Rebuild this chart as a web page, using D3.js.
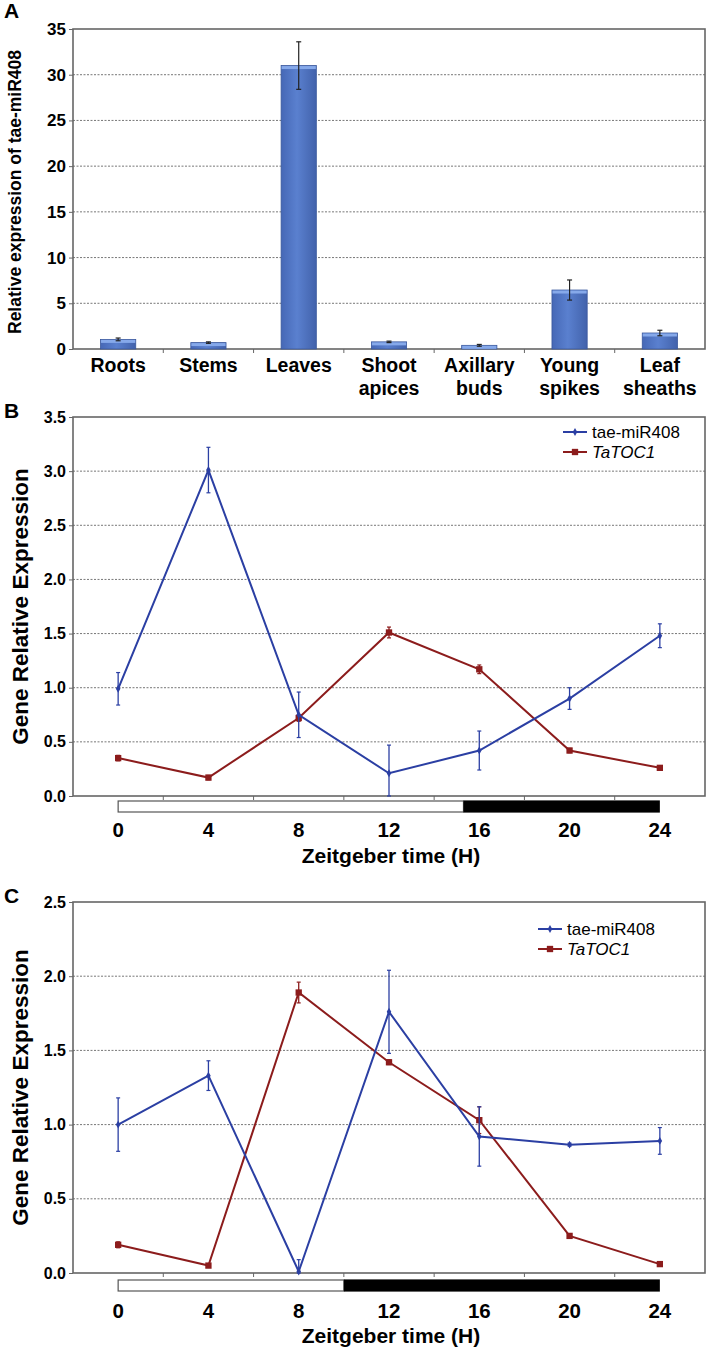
<!DOCTYPE html>
<html>
<head>
<meta charset="utf-8">
<script src="https://cdn.jsdelivr.net/npm/d3@7"></script>
<style>
  body { margin: 0; background: #fff; }
  svg text { font-family: "Liberation Sans", Arial, Helvetica, sans-serif; }
</style>
</head>
<body>
<div id="chart"></div>
<script>
// Panel A: tissue expression of tae-miR408
const tissues = ["Roots", "Stems", "Leaves", "Shoot apices", "Axillary buds", "Young spikes", "Leaf sheaths"];
const tissueExpr = [1.05, 0.7, 31.0, 0.78, 0.4, 6.45, 1.75];
const tissueErr = [0.15, 0.08, 2.6, 0.08, 0.1, 1.1, 0.3];
const ticksA = [0, 5, 10, 15, 20, 25, 30, 35];

// Panels B and C: time course (Zeitgeber time, hours)
const hours = [0, 4, 8, 12, 16, 20, 24];
const seriesNames = ["tae-miR408", "TaTOC1"];

const mirB = [0.99, 3.01, 0.75, 0.21, 0.42, 0.9, 1.48];
const mirBErr = [0.15, 0.21, 0.21, 0.26, 0.18, 0.1, 0.11];
const tocB = [0.35, 0.17, 0.72, 1.51, 1.17, 0.42, 0.26];
const tocBErr = [0.025, 0.02, 0.03, 0.05, 0.04, 0.02, 0.02];
const ticksB = [0, 0.5, 1.0, 1.5, 2.0, 2.5, 3.0, 3.5];
const lightEndB = 15.3;

const mirC = [1.0, 1.33, 0.01, 1.76, 0.92, 0.865, 0.89];
const mirCErr = [0.18, 0.1, 0.08, 0.28, 0.2, 0.01, 0.09];
const tocC = [0.19, 0.05, 1.89, 1.42, 1.03, 0.25, 0.06];
const tocCErr = [0.02, 0.01, 0.07, 0.015, 0.09, 0.015, 0.01];
const ticksC = [0, 0.5, 1.0, 1.5, 2.0, 2.5];
const lightEndC = 10;

const W = 711, H = 1352;
const left = 73, right = 705;
const blue = "#2b3fa3", red = "#8c1c1c";

const svg = d3.select("#chart").append("svg")
  .attr("width", W).attr("height", H);

const defs = svg.append("defs");
const grad = defs.append("linearGradient").attr("id", "barGrad")
  .attr("x1", 0).attr("x2", 1).attr("y1", 0).attr("y2", 0);
grad.append("stop").attr("offset", "0%").attr("stop-color", "#4668b6");
grad.append("stop").attr("offset", "45%").attr("stop-color", "#5a80cf");
grad.append("stop").attr("offset", "100%").attr("stop-color", "#4262ab");

function panelLabel(txt, y) {
  svg.append("text").attr("x", 4).attr("y", y)
    .style("font-size", "21px").style("font-weight", "bold").text(txt);
}

function frame(g, y, ticks, top, bottom, fmt) {
  // dotted gridlines
  g.selectAll(".grid").data(ticks.filter(t => t > 0 && t < ticks[ticks.length - 1]))
    .enter().append("line")
    .attr("x1", left).attr("x2", right)
    .attr("y1", d => y(d)).attr("y2", d => y(d))
    .attr("stroke", "#777").attr("stroke-width", 1)
    .attr("stroke-dasharray", "2,1.5");
  // box
  g.append("rect").attr("x", left).attr("y", top)
    .attr("width", right - left).attr("height", bottom - top)
    .attr("fill", "none").attr("stroke", "#666").attr("stroke-width", 1.6);
  // y axis
  const ax = g.append("g").attr("transform", `translate(${left},0)`)
    .call(d3.axisLeft(y).tickValues(ticks).tickSize(4).tickSizeOuter(0).tickFormat(fmt));
  ax.select(".domain").remove();
  ax.selectAll("line").attr("stroke", "#666");
  return ax;
}

// ---------- Panel A ----------
panelLabel("A", 18);
const gA = svg.append("g");
const topA = 29, botA = 349;
const yA = d3.scaleLinear().domain([0, 35]).range([botA, topA]);
const xA = d3.scaleBand().domain(tissues).range([left, right]).paddingInner(0.61).paddingOuter(0.305);
const bandA = (right - left) / tissues.length;

const axA = frame(gA, yA, ticksA, topA, botA, d3.format("d"));
axA.selectAll("text").style("font-size", "17px").style("font-weight", "bold").attr("fill", "#000");

// category boundary ticks
gA.selectAll(".xt").data(d3.range(1, tissues.length))
  .enter().append("line")
  .attr("x1", d => left + d * bandA).attr("x2", d => left + d * bandA)
  .attr("y1", botA).attr("y2", botA + 4).attr("stroke", "#666");

const bars = gA.selectAll(".bar").data(tissues).enter().append("g");
bars.append("rect")
  .attr("x", d => xA(d)).attr("width", xA.bandwidth())
  .attr("y", (d, i) => yA(tissueExpr[i]))
  .attr("height", (d, i) => botA - yA(tissueExpr[i]))
  .attr("fill", "url(#barGrad)").attr("stroke", "#3a589c").attr("stroke-width", 0.8);
bars.append("rect")
  .attr("x", d => xA(d) + 0.5).attr("width", xA.bandwidth() - 1)
  .attr("y", (d, i) => yA(tissueExpr[i]) + 0.5)
  .attr("height", (d, i) => Math.min(3, botA - yA(tissueExpr[i])))
  .attr("fill", "#86a9ea");
// error bars
bars.each(function (d, i) {
  const cx = xA(d) + xA.bandwidth() / 2;
  const g = d3.select(this);
  const y1 = yA(tissueExpr[i] + tissueErr[i]), y2 = yA(tissueExpr[i] - tissueErr[i]);
  g.append("line").attr("x1", cx).attr("x2", cx).attr("y1", y1).attr("y2", y2)
    .attr("stroke", "#222").attr("stroke-width", 1.2);
  [y1, y2].forEach(yy => g.append("line").attr("x1", cx - 2.5).attr("x2", cx + 2.5)
    .attr("y1", yy).attr("y2", yy).attr("stroke", "#222").attr("stroke-width", 1.2));
});

// category labels
gA.selectAll(".cat").data(tissues).enter().append("text")
  .attr("text-anchor", "middle")
  .attr("x", d => xA(d) + xA.bandwidth() / 2)
  .attr("y", 372)
  .style("font-size", "19.5px").style("font-weight", "bold")
  .each(function (d) {
    const words = d.split(" ");
    const t = d3.select(this);
    words.forEach((w, k) => t.append("tspan")
      .attr("x", xA(d) + xA.bandwidth() / 2)
      .attr("dy", k === 0 ? 0 : 23).text(w));
  });

svg.append("text")
  .attr("transform", `translate(21,${(topA + botA) / 2 + 3}) rotate(-90)`)
  .attr("text-anchor", "middle")
  .style("font-size", "17.5px").style("font-weight", "bold")
  .text("Relative expression of tae-miR408");

// ---------- Panels B and C ----------
function timePanel(cfg) {
  panelLabel(cfg.label, cfg.labelY);
  const g = svg.append("g");
  const y = d3.scaleLinear().domain([0, cfg.ticks[cfg.ticks.length - 1]]).range([cfg.bottom, cfg.top]);
  const xb = d3.scaleBand().domain(hours).range([left, right]);
  const xc = h => xb(h) + xb.bandwidth() / 2;
  const xt = d3.scaleLinear().domain([0, 24]).range([xc(0), xc(24)]);

  const ax = frame(g, y, cfg.ticks, cfg.top, cfg.bottom, d3.format(".1f"));
  ax.selectAll("text").style("font-size", "16px").style("font-weight", "bold").attr("fill", "#000");

  g.selectAll(".xt").data(d3.range(1, hours.length))
    .enter().append("line")
    .attr("x1", d => left + d * xb.bandwidth()).attr("x2", d => left + d * xb.bandwidth())
    .attr("y1", cfg.bottom).attr("y2", cfg.bottom + 4).attr("stroke", "#666");

  // light / dark bar
  const by = cfg.bottom + cfg.barOff;
  g.append("rect").attr("x", xt(0)).attr("y", by)
    .attr("width", xt(cfg.lightEnd) - xt(0)).attr("height", 11)
    .attr("fill", "#fff").attr("stroke", "#555").attr("stroke-width", 1.2);
  g.append("rect").attr("x", xt(cfg.lightEnd)).attr("y", by - 0.6)
    .attr("width", xt(24) - xt(cfg.lightEnd)).attr("height", 12.2)
    .attr("fill", "#000");

  g.selectAll(".hl").data(hours).enter().append("text")
    .attr("x", d => xc(d)).attr("y", cfg.bottom + cfg.tickOff)
    .attr("text-anchor", "middle")
    .style("font-size", "20.5px").style("font-weight", "bold").text(d => d);

  g.append("text").attr("x", (xc(0) + xc(24)) / 2 + 2).attr("y", cfg.bottom + cfg.titleOff)
    .attr("text-anchor", "middle")
    .style("font-size", "21px").style("font-weight", "bold").text("Zeitgeber time (H)");

  svg.append("text")
    .attr("transform", `translate(28,${(cfg.top + cfg.bottom) / 2}) rotate(-90)`)
    .attr("text-anchor", "middle")
    .style("font-size", "22.5px").style("font-weight", "bold")
    .text("Gene Relative Expression");

  const line = d3.line().x((d, i) => xc(hours[i])).y(d => y(d));
  const series = [
    { vals: cfg.toc, err: cfg.tocErr, color: red, square: true },
    { vals: cfg.mir, err: cfg.mirErr, color: blue, square: false }
  ];
  series.forEach(s => {
    g.append("path").datum(s.vals).attr("d", line)
      .attr("fill", "none").attr("stroke", s.color).attr("stroke-width", 2);
    s.vals.forEach((v, i) => {
      const cx = xc(hours[i]);
      const y1 = y(v + s.err[i]), y2 = y(Math.max(0, v - s.err[i]));
      g.append("line").attr("x1", cx).attr("x2", cx).attr("y1", y1).attr("y2", y2)
        .attr("stroke", s.color).attr("stroke-width", 1.3);
      [y1, y2].forEach(yy => g.append("line").attr("x1", cx - 2).attr("x2", cx + 2)
        .attr("y1", yy).attr("y2", yy).attr("stroke", s.color).attr("stroke-width", 1.2));
    });
    g.selectAll(null).data(s.vals).enter().append("path")
      .attr("transform", (d, i) => `translate(${xc(hours[i])},${y(d)})`)
      .attr("d", d3.symbol().type(s.square ? d3.symbolSquare : d3.symbolDiamond).size(s.square ? 40 : 18)())
      .attr("fill", s.color);
  });

  // legend
  const lg = g.append("g").attr("transform", `translate(${cfg.legX},${cfg.legY})`);
  [{ c: blue, sq: false }, { c: red, sq: true }].forEach((it, k) => {
    const yy = k * 20;
    lg.append("line").attr("x1", 0).attr("x2", 24).attr("y1", yy).attr("y2", yy)
      .attr("stroke", it.c).attr("stroke-width", 2);
    lg.append("path").attr("transform", `translate(12,${yy})`)
      .attr("d", d3.symbol().type(it.sq ? d3.symbolSquare : d3.symbolDiamond).size(it.sq ? 40 : 18)())
      .attr("fill", it.c);
    lg.append("text").attr("x", 29).attr("y", yy + 6)
      .style("font-size", "17px")
      .style("font-style", k === 1 ? "italic" : "normal")
      .text(seriesNames[k]);
  });
}

timePanel({
  label: "B", labelY: 418, top: 417, bottom: 796, ticks: ticksB,
  mir: mirB, mirErr: mirBErr, toc: tocB, tocErr: tocBErr, lightEnd: lightEndB,
  barOff: 5, tickOff: 41, titleOff: 67, legX: 563, legY: 432
});

timePanel({
  label: "C", labelY: 903, top: 902, bottom: 1273, ticks: ticksC,
  mir: mirC, mirErr: mirCErr, toc: tocC, tocErr: tocCErr, lightEnd: lightEndC,
  barOff: 7, tickOff: 45, titleOff: 70, legX: 538, legY: 929
});
</script>
</body>
</html>
